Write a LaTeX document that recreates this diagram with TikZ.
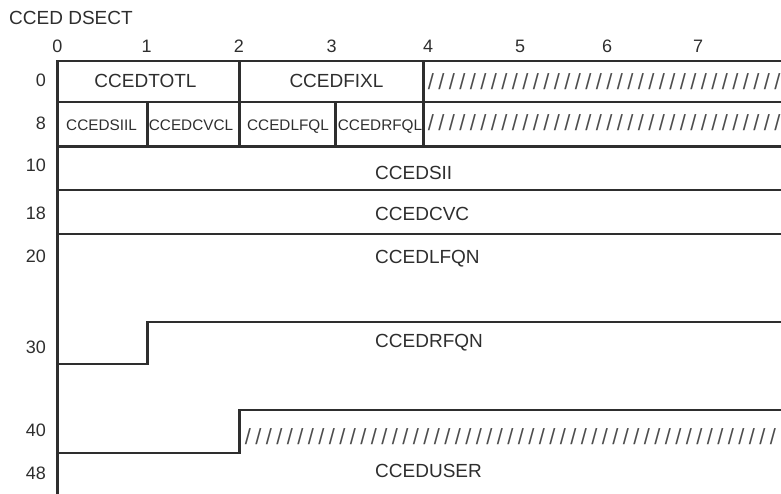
\documentclass[tikz,border=0pt]{standalone}
\usepackage{fontspec}
\setmainfont{Liberation Sans}
\definecolor{ink}{HTML}{2E2E2E}
\tikzset{
  frame/.style={draw=ink, line width=2.1pt, line cap=rect},
  big/.style={font=\fontsize{19}{22}\selectfont, text=ink, inner sep=0pt, anchor=base, yshift=-6.8pt},
  bigw/.style={big, anchor=base west},
  small/.style={font=\fontsize{15.3}{18}\selectfont, text=ink, inner sep=0pt, anchor=base, yshift=-5.5pt},
  num/.style={font=\fontsize{18}{21}\selectfont, text=ink, inner sep=0pt, anchor=base, yshift=-6.4pt},
  numr/.style={num, anchor=base east},
  hatch/.style={font=\fontsize{22}{24}\selectfont, text=ink!85, inner sep=0pt, anchor=center},
}
\begin{document}
\begin{tikzpicture}[x=1pt,y=-1pt]
\useasboundingbox (0,0) rectangle (781,494);
\clip (0,0) rectangle (781,494);
% title
\node[big, anchor=base west] (title) at (9,18) {CCED DSECT};
% column numbers
\node[num] (c0) at (57.3,46.5) {0};
\node[num] (c1) at (146.7,46.5) {1};
\node[num] (c2) at (239,46.5) {2};
\node[num] (c3) at (331.7,46.5) {3};
\node[num] (c4) at (428,46.5) {4};
\node[num] (c5) at (520,46.5) {5};
\node[num] (c6) at (607,46.5) {6};
\node[num] (c7) at (698,46.5) {7};
% row offsets
\node[numr] (r0) at (46,80.5) {0};
\node[numr] (r8) at (46,123) {8};
\node[numr] (r10) at (46,165) {10};
\node[numr] (r18) at (46,213) {18};
\node[numr] (r20) at (46,256) {20};
\node[numr] (r30) at (46,347) {30};
\node[numr] (r40) at (46,430) {40};
\node[numr] (r48) at (46,473) {48};
% frame lines
\draw[frame] (57.5,500) -- (57.5,60.7) -- (790,60.7);
\draw[frame] (57.5,102.3) -- (790,102.3);
\draw[frame] (57.5,146.5) -- (790,146.5);
\draw[frame] (57.5,190) -- (790,190);
\draw[frame] (57.5,234) -- (790,234);
\draw[frame] (57.5,364.3) -- (147.5,364.3) -- (147.5,321.7) -- (790,321.7);
\draw[frame] (57.5,453.3) -- (239.5,453.3) -- (239.5,410) -- (790,410);
\draw[frame] (239.5,60.7) -- (239.5,146.5);
\draw[frame] (423.5,60.7) -- (423.5,146.5);
\draw[frame] (147.5,102.3) -- (147.5,146.5);
\draw[frame] (335.5,102.3) -- (335.5,146.5);
% field labels
\node[big] (totl) at (145.5,80.7) {CCEDTOTL};
\node[big] (fixl) at (336.5,80.7) {CCEDFIXL};
\node[small] (siil) at (101.5,125) {CCEDSIIL};
\node[small] (cvcl) at (191,125) {CCEDCVCL};
\node[small] (lfql) at (288,125) {CCEDLFQL};
\node[small] (rfql) at (380,125) {CCEDRFQL};
\node[bigw] (sii) at (375,173) {CCEDSII};
\node[bigw] (cvc) at (375,214) {CCEDCVC};
\node[bigw] (lfqn) at (375,257) {CCEDLFQN};
\node[bigw] (rfqn) at (375,341) {CCEDRFQN};
\node[bigw] (user) at (375,471) {CCEDUSER};
% reserved (hatched) areas
\foreach \i in {0,...,33} {
  \node[hatch] (ha\i) at ({431+10.5*\i},81.5) {/};
  \node[hatch] (hb\i) at ({431+10.5*\i},123) {/};
}
\foreach \i in {0,...,50} {
  \node[hatch] (hc\i) at ({248+10.5*\i},437) {/};
}
\end{tikzpicture}
\end{document}
